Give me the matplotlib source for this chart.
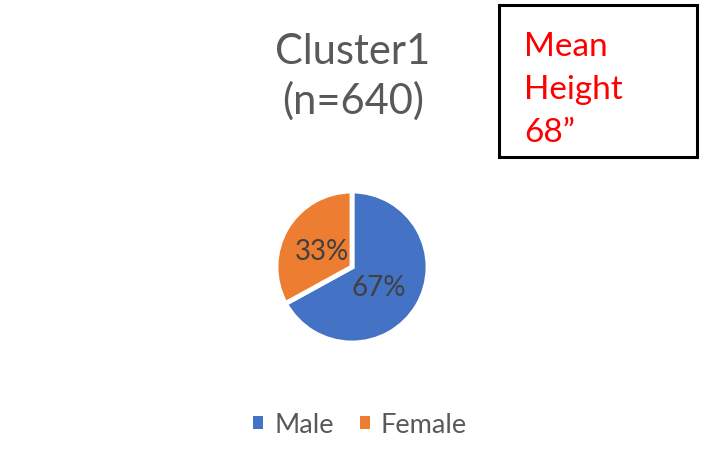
import matplotlib.pyplot as plt
from matplotlib.patches import Rectangle, Patch

plt.rcParams['font.family'] = ['Lato', 'DejaVu Sans']

labels = ['Male', 'Female']
values = [67, 33]
colors = ['#4472C4', '#ED7D31']
title = 'Cluster1\n(n=640)'
note = 'Mean\nHeight\n68\u201d'

fig = plt.figure(figsize=(7.08, 4.65), dpi=100)

# pie
ax = fig.add_axes([352/708 - 80/708, 1 - (267 + 80)/465, 160/708, 160/465])
wedges, texts = ax.pie(values, colors=colors, startangle=90, counterclock=False,
                       radius=76/80,
                       wedgeprops=dict(edgecolor='white', linewidth=3.5))
ax.set_xlim(-1, 1)
ax.set_ylim(-1, 1)
ax.set_aspect('equal')
ax.axis('off')
ax.text(0.33, -0.26, '67%', ha='center', va='center', fontsize=20, color='#404040')
ax.text(-0.37, 0.19, '33%', ha='center', va='center', fontsize=20, color='#404040')

# title
fig.text(353/708, 1 - 77/465, title, ha='center', va='center', fontsize=30,
         color='#595959', linespacing=1.34)

# box with note
fig.add_artist(Rectangle((499/708, 1 - 157/465), 198/708, 152/465,
                         transform=fig.transFigure, fill=False,
                         edgecolor='black', linewidth=2.2))
fig.text(524/708, 1 - 90/465, note, ha='left', va='center', fontsize=24,
         color='#FF0000', linespacing=1.55)

# legend
handles = [Patch(facecolor=c, edgecolor='none') for c in colors]
fig.legend(handles, labels, loc='center', bbox_to_anchor=(360/708, 1 - 425/465),
           ncol=2, frameon=False, fontsize=19.5, labelcolor='#595959',
           handlelength=0.37, handleheight=0.37, handletextpad=0.4, columnspacing=0.95)

fig.savefig('out.png', dpi=100, facecolor='white')
